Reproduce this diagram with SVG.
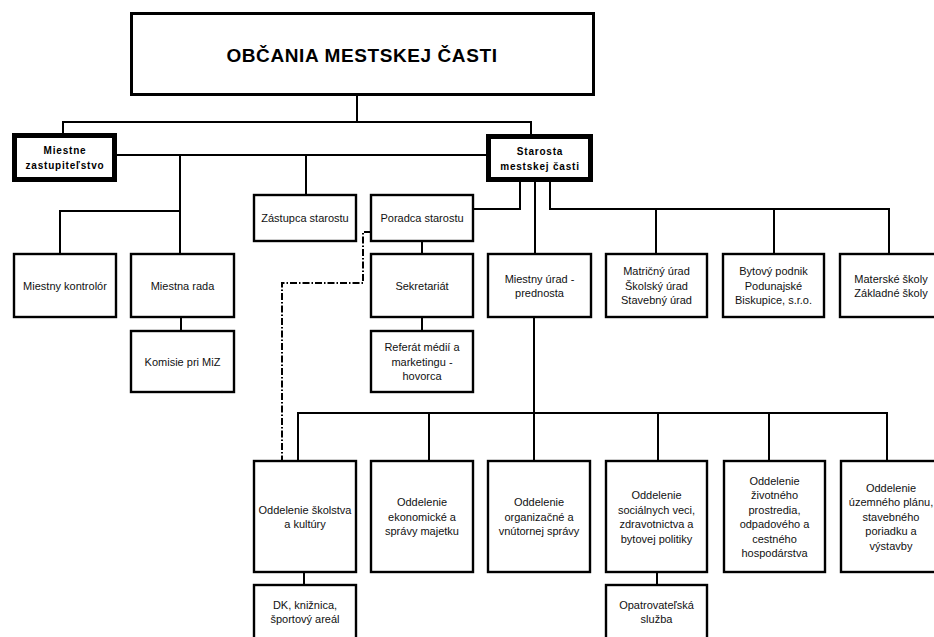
<svg xmlns="http://www.w3.org/2000/svg" width="934" height="637" viewBox="0 0 934 637">
<style>
.b{fill:#fff;stroke:#000;stroke-width:2.4}
.bb{fill:#fff;stroke:#000;stroke-width:5}
.bt{fill:#fff;stroke:#000;stroke-width:3}
.c{fill:none;stroke:#000;stroke-width:2}
.d{fill:none;stroke:#000;stroke-width:2;stroke-dasharray:7 2 1.5 2}
.t{font-family:"Liberation Sans",Arial,sans-serif;font-size:11px;text-anchor:middle;fill:#111}
.tb{font-family:"Liberation Sans",Arial,sans-serif;font-size:10px;font-weight:bold;letter-spacing:0.8px;text-anchor:middle;fill:#000}
.tt{font-family:"Liberation Sans",Arial,sans-serif;font-size:19px;font-weight:bold;letter-spacing:0.6px;text-anchor:middle;fill:#000}
</style>
<rect width="934" height="637" fill="#fff"/>
<g id="connectors">
<path class="c" d="M357,96 V122"/>
<path class="c" d="M63,134 V122 H531 V134"/>
<path class="c" d="M117,155 H486"/>
<path class="c" d="M180,155 V254"/>
<path class="c" d="M60,254 V211 H180"/>
<path class="c" d="M306,155 V195"/>
<path class="c" d="M181,317 V331"/>
<path class="c" d="M520,182 V209 H473"/>
<path class="c" d="M422,241 V254"/>
<path class="c" d="M422,317 V331"/>
<path class="c" d="M535,182 V254"/>
<path class="c" d="M534,317 V461"/>
<path class="c" d="M550,182 V209 H889 V254"/>
<path class="c" d="M656,209 V254"/>
<path class="c" d="M774,209 V254"/>
<path class="c" d="M298,461 V413 H887 V461"/>
<path class="c" d="M429,413 V461"/>
<path class="c" d="M658,413 V461"/>
<path class="c" d="M769,413 V461"/>
<path class="c" d="M304,572 V585"/>
<path class="c" d="M657,572 V585"/>
<path class="d" d="M371,232 H363 V283 H282 V461"/>
</g>
<g id="obcania"><rect class="bt" x="131.5" y="13.5" width="462" height="81"/><text class="tt" x="362" y="62">OBČANIA MESTSKEJ ČASTI</text></g>
<g id="zastupitelstvo"><rect class="bb" x="14.5" y="135.5" width="100" height="44"/><text class="tb" x="65" y="154">Miestne</text><text class="tb" x="65" y="169">zastupiteľstvo</text></g>
<g id="starosta"><rect class="bb" x="488.5" y="136.5" width="102" height="43"/><text class="tb" x="540" y="155">Starosta</text><text class="tb" x="540" y="170">mestskej časti</text></g>
<g id="kontrolor"><rect class="b" x="14" y="254" width="102" height="63"/><text class="t" x="65" y="289.5">Miestny kontrolór</text></g>
<g id="rada"><rect class="b" x="131" y="254" width="103" height="63"/><text class="t" x="182.5" y="289.5">Miestna rada</text></g>
<g id="komisie"><rect class="b" x="131" y="331" width="103" height="61"/><text class="t" x="182.5" y="365.5">Komisie pri MiZ</text></g>
<g id="zastupca"><rect class="b" x="254" y="195" width="102" height="46"/><text class="t" x="305" y="222">Zástupca starostu</text></g>
<g id="poradca"><rect class="b" x="371" y="195" width="102" height="46"/><text class="t" x="422" y="222">Poradca starostu</text></g>
<g id="sekretariat"><rect class="b" x="371" y="254" width="102" height="63"/><text class="t" x="422" y="289.5">Sekretariát</text></g>
<g id="referat"><rect class="b" x="371" y="331" width="102" height="61"/><text class="t" x="422" y="351">Referát médií a</text><text class="t" x="422" y="365.5">marketingu -</text><text class="t" x="422" y="380">hovorca</text></g>
<g id="urad"><rect class="b" x="488" y="254" width="103" height="63"/><text class="t" x="539.5" y="282.5">Miestny úrad -</text><text class="t" x="539.5" y="297">prednosta</text></g>
<g id="matricny"><rect class="b" x="606" y="254" width="101" height="63"/><text class="t" x="656.5" y="275">Matričný úrad</text><text class="t" x="656.5" y="289.5">Školský úrad</text><text class="t" x="656.5" y="304">Stavebný úrad</text></g>
<g id="bytovy"><rect class="b" x="723" y="254" width="101" height="63"/><text class="t" x="773.5" y="275">Bytový podnik</text><text class="t" x="773.5" y="289.5">Podunajské</text><text class="t" x="773.5" y="304">Biskupice, s.r.o.</text></g>
<g id="skoly"><rect class="b" x="840" y="254" width="102" height="63"/><text class="t" x="891" y="282.5">Materské školy</text><text class="t" x="891" y="297">Základné školy</text></g>
<g id="skolstvo"><rect class="b" x="254" y="461" width="102" height="111"/><text class="t" x="305" y="513.5">Oddelenie školstva</text><text class="t" x="305" y="528">a kultúry</text></g>
<g id="ekonomicke"><rect class="b" x="371" y="461" width="102" height="111"/><text class="t" x="422" y="506">Oddelenie</text><text class="t" x="422" y="520.5">ekonomické a</text><text class="t" x="422" y="535">správy majetku</text></g>
<g id="organizacne"><rect class="b" x="488" y="461" width="102" height="111"/><text class="t" x="539" y="506">Oddelenie</text><text class="t" x="539" y="520.5">organizačné a</text><text class="t" x="539" y="535">vnútornej správy</text></g>
<g id="socialne"><rect class="b" x="606" y="461" width="101" height="111"/><text class="t" x="656.5" y="499">Oddelenie</text><text class="t" x="656.5" y="513.5">sociálnych veci,</text><text class="t" x="656.5" y="528">zdravotnictva a</text><text class="t" x="656.5" y="542.5">bytovej politiky</text></g>
<g id="zivotne"><rect class="b" x="724" y="461" width="101" height="111"/><text class="t" x="774.5" y="484.5">Oddelenie</text><text class="t" x="774.5" y="499">životného</text><text class="t" x="774.5" y="513.5">prostredia,</text><text class="t" x="774.5" y="528">odpadového a</text><text class="t" x="774.5" y="542.5">cestného</text><text class="t" x="774.5" y="557">hospodárstva</text></g>
<g id="uzemne"><rect class="b" x="841" y="461" width="102" height="111"/><text class="t" x="891" y="491.5">Oddelenie</text><text class="t" x="891" y="506">územného plánu,</text><text class="t" x="891" y="520.5">stavebného</text><text class="t" x="891" y="535">poriadku a</text><text class="t" x="891" y="549.5">výstavby</text></g>
<g id="dk"><rect class="b" x="254" y="585" width="102" height="60"/><text class="t" x="305" y="608.5">DK, knižnica,</text><text class="t" x="305" y="623">športový areál</text></g>
<g id="opatrovatelska"><rect class="b" x="606" y="585" width="101" height="60"/><text class="t" x="656.5" y="608.5">Opatrovateľská</text><text class="t" x="656.5" y="623">služba</text></g>
</svg>
